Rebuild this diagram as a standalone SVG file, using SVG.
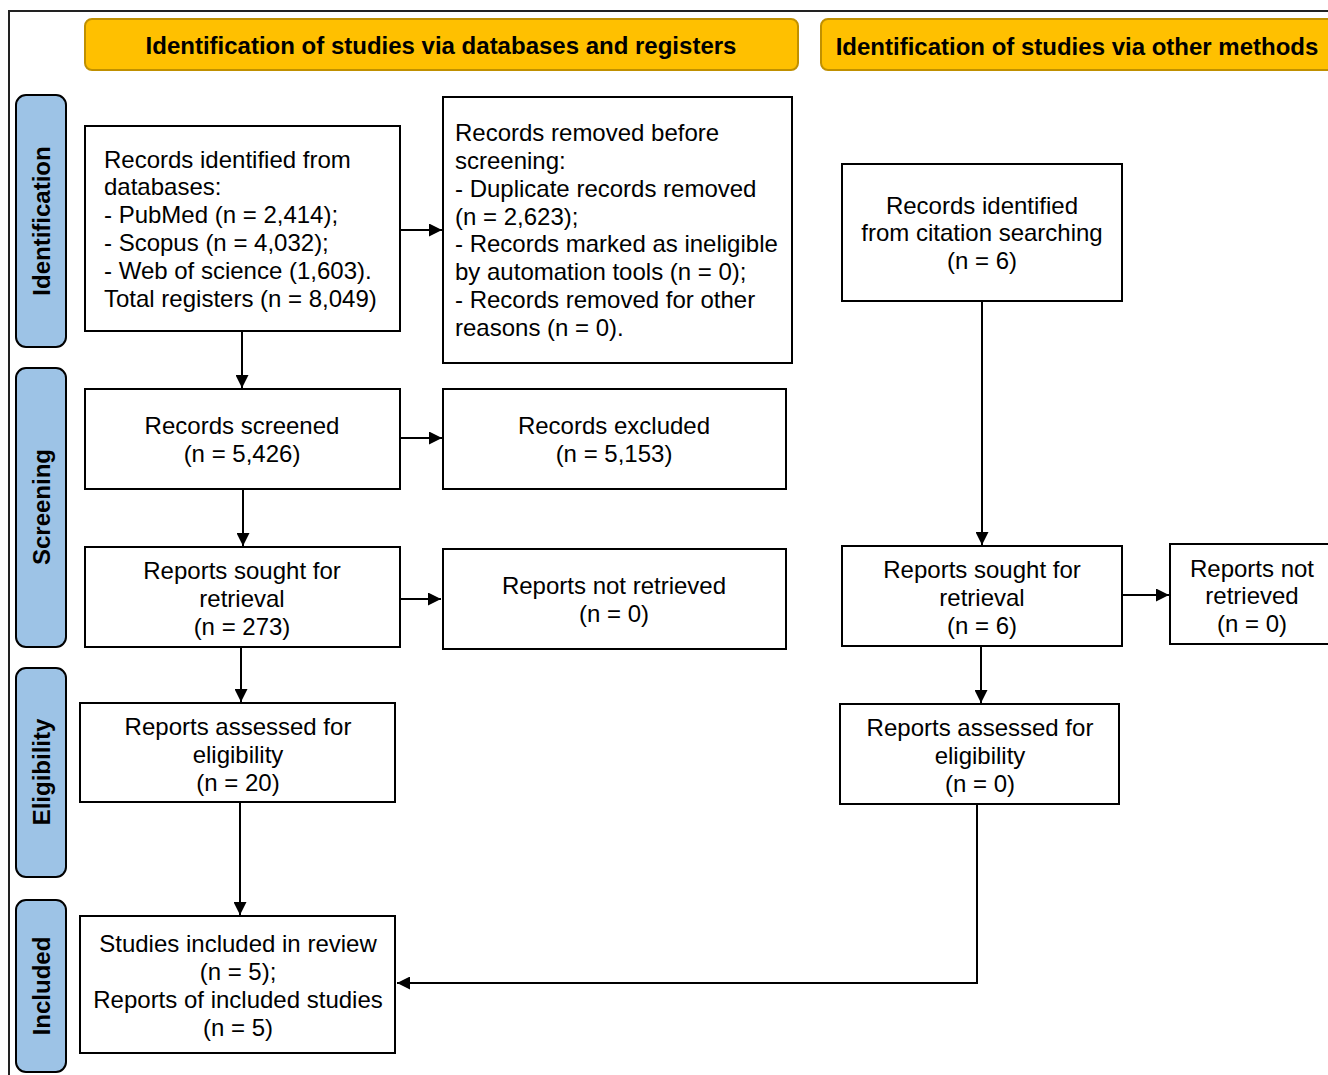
<svg xmlns="http://www.w3.org/2000/svg" width="1328" height="1075" viewBox="0 0 1328 1075">
<defs>
<marker id="ah" viewBox="0 0 10 10" refX="10" refY="5" markerWidth="14" markerHeight="13" markerUnits="userSpaceOnUse" orient="auto"><path d="M0,0 L10,5 L0,10 z" fill="#000"/></marker>
<style>
.box{fill:#fff;stroke:#000;stroke-width:2}
.hdr{fill:#FFC000;stroke:#C09000;stroke-width:2}
.side{fill:#9DC3E6;stroke:#000;stroke-width:2}
.t{font-family:"Liberation Sans",Arial,sans-serif;font-size:24px;fill:#000}
.c{text-anchor:middle}
.h{font-family:"Liberation Sans",Arial,sans-serif;font-size:24px;font-weight:bold;fill:#000;text-anchor:middle}
.ln{stroke:#000;stroke-width:2;fill:none}
</style>
</defs>
<rect width="1328" height="1075" fill="#fff"/>
<path d="M9,1075 V11 H1328" stroke="#222" stroke-width="2" fill="none"/>
<g id="hdr-left"><rect class="hdr" x="85" y="19" width="713" height="51" rx="7"/><text class="h" x="441" y="54">Identification of studies via databases and registers</text></g>
<g id="hdr-right"><rect class="hdr" x="821" y="19" width="520" height="51" rx="7"/><text class="h" x="1077" y="55">Identification of studies via other methods</text></g>
<g id="side-identification"><rect class="side" x="16" y="95" width="50" height="252" rx="10"/><text class="h" transform="translate(50,221) rotate(-90)">Identification</text></g>
<g id="side-screening"><rect class="side" x="16" y="368" width="50" height="279" rx="10"/><text class="h" transform="translate(50,507) rotate(-90)">Screening</text></g>
<g id="side-eligibility"><rect class="side" x="16" y="668" width="50" height="209" rx="10"/><text class="h" transform="translate(50,772) rotate(-90)">Eligibility</text></g>
<g id="side-included"><rect class="side" x="16" y="900" width="50" height="172" rx="10"/><text class="h" transform="translate(50,986) rotate(-90)">Included</text></g>

<g id="records-identified"><rect class="box" x="85" y="126" width="315" height="205"/>
<text class="t" x="104" y="168">Records identified from</text>
<text class="t" x="104" y="195">databases:</text>
<text class="t" x="104" y="223">- PubMed (n = 2,414);</text>
<text class="t" x="104" y="251">- Scopus (n = 4,032);</text>
<text class="t" x="104" y="279">- Web of science (1,603).</text>
<text class="t" x="104" y="307">Total registers (n = 8,049)</text></g>

<g id="records-removed"><rect class="box" x="443" y="97" width="349" height="266"/>
<text class="t" x="455" y="141">Records removed before</text>
<text class="t" x="455" y="169">screening:</text>
<text class="t" x="455" y="197">- Duplicate records removed</text>
<text class="t" x="455" y="225">(n = 2,623);</text>
<text class="t" x="455" y="252">- Records marked as ineligible</text>
<text class="t" x="455" y="280">by automation tools (n = 0);</text>
<text class="t" x="455" y="308">- Records removed for other</text>
<text class="t" x="455" y="336">reasons (n = 0).</text></g>

<g id="records-citation"><rect class="box" x="842" y="164" width="280" height="137"/>
<text class="t c" x="982" y="214">Records identified</text>
<text class="t c" x="982" y="241">from citation searching</text>
<text class="t c" x="982" y="269">(n = 6)</text></g>

<g id="records-screened"><rect class="box" x="85" y="389" width="315" height="100"/>
<text class="t c" x="242" y="434">Records screened</text>
<text class="t c" x="242" y="462">(n = 5,426)</text></g>

<g id="records-excluded"><rect class="box" x="443" y="389" width="343" height="100"/>
<text class="t c" x="614" y="434">Records excluded</text>
<text class="t c" x="614" y="462">(n = 5,153)</text></g>

<g id="reports-sought-left"><rect class="box" x="85" y="547" width="315" height="100"/>
<text class="t c" x="242" y="579">Reports sought for</text>
<text class="t c" x="242" y="607">retrieval</text>
<text class="t c" x="242" y="635">(n = 273)</text></g>

<g id="reports-not-retrieved-left"><rect class="box" x="443" y="549" width="343" height="100"/>
<text class="t c" x="614" y="594">Reports not retrieved</text>
<text class="t c" x="614" y="622">(n = 0)</text></g>

<g id="reports-sought-right"><rect class="box" x="842" y="546" width="280" height="100"/>
<text class="t c" x="982" y="578">Reports sought for</text>
<text class="t c" x="982" y="606">retrieval</text>
<text class="t c" x="982" y="634">(n = 6)</text></g>

<g id="reports-not-retrieved-right"><rect class="box" x="1170" y="544" width="170" height="100"/>
<text class="t c" x="1252" y="577">Reports not</text>
<text class="t c" x="1252" y="604">retrieved</text>
<text class="t c" x="1252" y="632">(n = 0)</text></g>

<g id="reports-assessed-left"><rect class="box" x="80" y="703" width="315" height="99"/>
<text class="t c" x="238" y="735">Reports assessed for</text>
<text class="t c" x="238" y="763">eligibility</text>
<text class="t c" x="238" y="791">(n = 20)</text></g>

<g id="reports-assessed-right"><rect class="box" x="840" y="704" width="279" height="100"/>
<text class="t c" x="980" y="736">Reports assessed for</text>
<text class="t c" x="980" y="764">eligibility</text>
<text class="t c" x="980" y="792">(n = 0)</text></g>

<g id="studies-included"><rect class="box" x="80" y="916" width="315" height="137"/>
<text class="t c" x="238" y="952">Studies included in review</text>
<text class="t c" x="238" y="980">(n = 5);</text>
<text class="t c" x="238" y="1008">Reports of included studies</text>
<text class="t c" x="238" y="1036">(n = 5)</text></g>

<g id="connectors">
<line class="ln" x1="242" y1="331" x2="242" y2="388" marker-end="url(#ah)"/>
<line class="ln" x1="400" y1="230" x2="442" y2="230" marker-end="url(#ah)"/>
<line class="ln" x1="400" y1="438" x2="442" y2="438" marker-end="url(#ah)"/>
<line class="ln" x1="243" y1="489" x2="243" y2="546" marker-end="url(#ah)"/>
<line class="ln" x1="400" y1="599" x2="441" y2="599" marker-end="url(#ah)"/>
<line class="ln" x1="241" y1="647" x2="241" y2="702" marker-end="url(#ah)"/>
<line class="ln" x1="240" y1="802" x2="240" y2="915" marker-end="url(#ah)"/>
<line class="ln" x1="982" y1="301" x2="982" y2="545" marker-end="url(#ah)"/>
<line class="ln" x1="1122" y1="595" x2="1169" y2="595" marker-end="url(#ah)"/>
<line class="ln" x1="981" y1="646" x2="981" y2="703" marker-end="url(#ah)"/>
<polyline class="ln" points="977,804 977,983 397,983" marker-end="url(#ah)"/>
</g>
</svg>
